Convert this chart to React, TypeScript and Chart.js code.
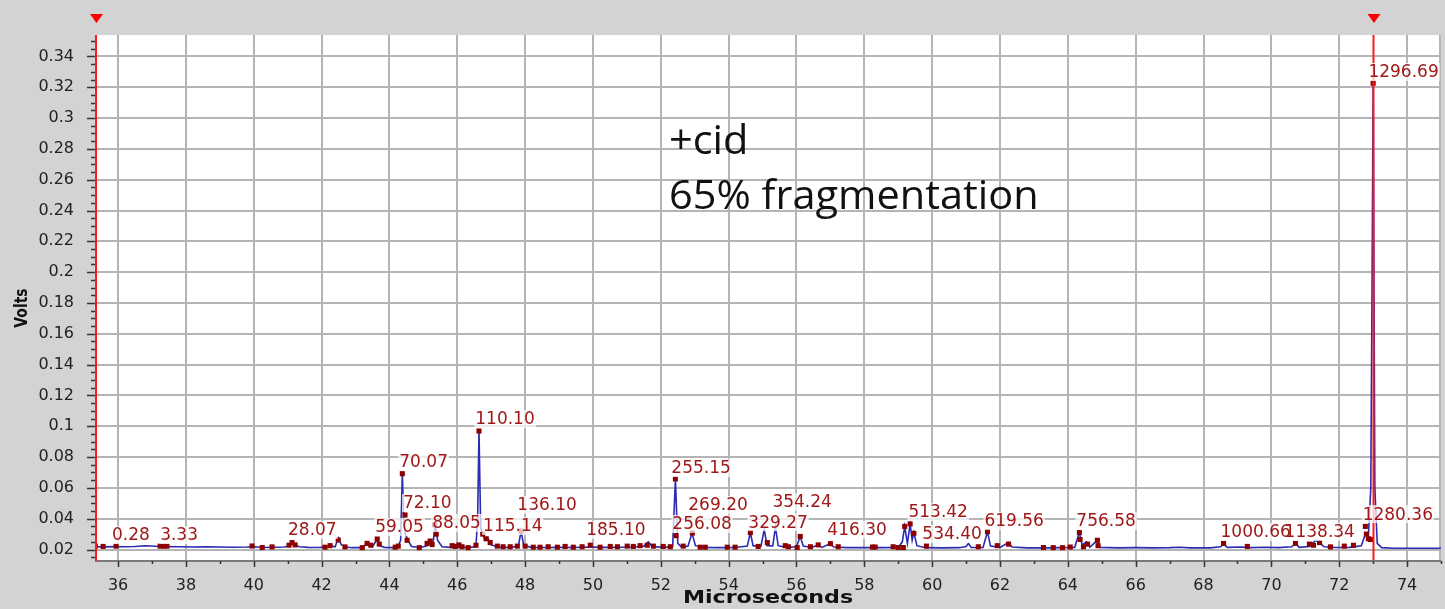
import React, { useEffect, useRef } from "react";
import { Chart, registerables } from "chart.js";

Chart.register(...registerables);

// ---- axis ranges ----
const X_MIN = 35.32;
const X_MAX = 75.0;
const Y_MIN = 0.0132;
const Y_MAX = 0.3539;

// ---- axis tick values / labels ----
const xMajorTicks = [36, 38, 40, 42, 44, 46, 48, 50, 52, 54, 56, 58, 60, 62, 64, 66, 68, 70, 72, 74];
const yMajorTicks = [0.02, 0.04, 0.06, 0.08, 0.1, 0.12, 0.14, 0.16, 0.18, 0.2, 0.22, 0.24, 0.26, 0.28, 0.3, 0.32, 0.34];
const X_MINOR_STEP = 1;
const Y_MINOR_STEP = 0.005;

// ---- trace (Volts vs Microseconds) ----
const traceX = [
  35.32, 35.6, 35.9, 36.2, 36.5, 36.8, 37.1, 37.4, 37.8, 38.2, 38.6, 39.0, 39.4, 39.8, 40.0, 40.3, 40.6, 40.9,
  41.05, 41.13, 41.22, 41.35, 41.6, 41.9, 42.15, 42.3, 42.4, 42.49, 42.58, 42.7, 42.9, 43.2, 43.32, 43.42, 43.5,
  43.64, 43.72, 43.85, 44.1, 44.25, 44.33, 44.38, 44.42, 44.47, 44.55, 44.65, 44.9, 45.1, 45.2, 45.28, 45.35,
  45.42, 45.55, 45.8, 46.0, 46.3, 46.55, 46.6, 46.64, 46.69, 46.75, 46.82, 46.9, 47.0, 47.2, 47.5, 47.8, 47.88,
  47.96, 48.2, 48.6, 49.0, 49.4, 49.9, 50.3, 50.8, 51.2, 51.5, 51.63, 51.75, 52.1, 52.35, 52.43, 52.5, 52.6,
  52.8, 52.92, 53.02, 53.3, 53.7, 54.2, 54.55, 54.64, 54.72, 54.95, 55.05, 55.13, 55.3, 55.38, 55.46, 55.7,
  56.0, 56.11, 56.2, 56.45, 56.64, 56.75, 56.99, 57.1, 57.5, 58.0, 58.5, 59.0, 59.12, 59.19, 59.27, 59.35,
  59.41, 59.46, 59.55, 59.8, 60.3, 60.8, 61.0, 61.07, 61.15, 61.5, 61.63, 61.72, 62.0, 62.25, 62.35, 62.8,
  63.3, 63.8, 64.2, 64.34, 64.42, 64.55, 64.65, 64.87, 64.95, 65.5, 66.0, 66.5, 67.0, 67.3, 67.6, 68.2, 68.5,
  68.59, 68.7, 69.1, 69.4, 69.8, 70.2, 70.6, 70.71, 70.82, 71.12, 71.3, 71.42, 71.55, 71.9, 72.3, 72.65,
  72.77, 72.86, 72.93, 72.97, 73.0, 73.05, 73.12, 73.25, 73.6, 74.0, 74.5, 75.0,
];
const traceY = [
  0.0218, 0.0217, 0.0219, 0.0218, 0.022, 0.0224, 0.0221, 0.0219, 0.0218, 0.0216, 0.0217, 0.0216, 0.0215, 0.0216, 0.0218, 0.0213, 0.0215, 0.0216,
  0.0225, 0.0238, 0.0226, 0.0218, 0.0214, 0.0213, 0.0216, 0.0222, 0.0218, 0.0275, 0.0232, 0.0216, 0.0212, 0.0212, 0.0235, 0.0228, 0.0218,
  0.0268, 0.0225, 0.0214, 0.0212, 0.0218, 0.026, 0.0692, 0.04, 0.03, 0.026, 0.022, 0.0213, 0.0222, 0.0245, 0.023, 0.036,
  0.026, 0.0218, 0.0214, 0.0215, 0.0214, 0.0218, 0.04, 0.0969, 0.034, 0.03, 0.026, 0.0275, 0.023, 0.0216, 0.0214, 0.022, 0.032,
  0.0225, 0.0214, 0.0213, 0.0214, 0.0213, 0.0216, 0.0214, 0.0215, 0.0216, 0.0222, 0.025, 0.022, 0.0214, 0.022, 0.0658, 0.024, 0.0218,
  0.0222, 0.0307, 0.0225, 0.0213, 0.0212, 0.0213, 0.0222, 0.031, 0.0225, 0.022, 0.033, 0.0225, 0.0224, 0.0345, 0.0225, 0.0214,
  0.0218, 0.0285, 0.0222, 0.0213, 0.023, 0.0214, 0.0238, 0.0216, 0.0212, 0.0212, 0.0212, 0.0214, 0.025, 0.035, 0.024, 0.0366,
  0.026, 0.031, 0.0225, 0.0212, 0.0211, 0.0212, 0.022, 0.024, 0.0214, 0.0213, 0.0316, 0.0222, 0.0214, 0.0245, 0.0216, 0.0211,
  0.0211, 0.0212, 0.0214, 0.031, 0.023, 0.025, 0.0215, 0.026, 0.0214, 0.0211, 0.0212, 0.0211, 0.0212, 0.0215, 0.0211, 0.0211, 0.0218,
  0.0235, 0.0214, 0.0216, 0.0212, 0.0215, 0.0212, 0.0218, 0.024, 0.0214, 0.022, 0.026, 0.0245, 0.0218, 0.0213, 0.0214, 0.0225,
  0.03, 0.029, 0.06, 0.2, 0.3226, 0.06, 0.024, 0.0212, 0.0208, 0.0208, 0.0208, 0.0208,
];

// ---- peak markers ----
const markerX = [
  35.33, 35.56, 35.94, 37.24, 37.35, 37.44, 39.95, 40.25, 40.54, 41.04, 41.13, 41.22, 42.1, 42.25, 42.49, 42.69,
  43.2, 43.34, 43.45, 43.64, 43.7, 44.17, 44.26, 44.38, 44.46, 44.52, 44.88, 45.11, 45.2, 45.26, 45.33, 45.38,
  45.85, 45.94, 46.05, 46.14, 46.32, 46.55, 46.64, 46.75, 46.85, 46.97, 47.18, 47.35, 47.56, 47.77, 47.88, 48.0,
  48.24, 48.44, 48.68, 48.95, 49.18, 49.42, 49.68, 49.92, 50.21, 50.51, 50.72, 51.01, 51.19, 51.39, 51.6, 51.78,
  52.07, 52.28, 52.43, 52.45, 52.66, 52.93, 53.16, 53.31, 53.96, 54.19, 54.64, 54.87, 55.14, 55.67, 55.76, 56.02,
  56.11, 56.41, 56.64, 57.0, 57.23, 58.24, 58.32, 58.85, 59.0, 59.15, 59.19, 59.35, 59.46, 59.83, 61.36, 61.63,
  61.92, 62.25, 63.28, 63.57, 63.84, 64.07, 64.34, 64.36, 64.46, 64.58, 64.87, 64.89, 68.59, 69.29, 70.71, 71.12,
  71.24, 71.42, 71.74, 72.15, 72.42, 72.77, 72.8, 72.86, 72.92, 73.0,
];
const markerY = [
  0.0222, 0.022, 0.0222, 0.0222, 0.0222, 0.0222, 0.0223, 0.0213, 0.0217, 0.0228, 0.0245, 0.023, 0.0215, 0.0225, 0.0262, 0.0217,
  0.0212, 0.024, 0.0228, 0.0268, 0.0235, 0.0215, 0.0222, 0.0692, 0.0424, 0.026, 0.0212, 0.024, 0.0255, 0.0232, 0.036, 0.03,
  0.0225, 0.022, 0.023, 0.0218, 0.0212, 0.0228, 0.0969, 0.03, 0.027, 0.0245, 0.0222, 0.0218, 0.0218, 0.0222, 0.032, 0.0222,
  0.0215, 0.0215, 0.0218, 0.0215, 0.022, 0.0215, 0.0218, 0.0228, 0.0215, 0.022, 0.0218, 0.0222, 0.022, 0.0225, 0.0228, 0.0222,
  0.022, 0.0218, 0.0658, 0.029, 0.0222, 0.0307, 0.0215, 0.0215, 0.0215, 0.0215, 0.031, 0.022, 0.0245, 0.0225, 0.0218, 0.0213,
  0.0285, 0.0218, 0.023, 0.0238, 0.0218, 0.0216, 0.0216, 0.0218, 0.0213, 0.0213, 0.035, 0.0366, 0.0305, 0.0222, 0.0218, 0.0316,
  0.0225, 0.0235, 0.0213, 0.0212, 0.0212, 0.0216, 0.031, 0.0265, 0.0218, 0.0235, 0.026, 0.0225, 0.024, 0.022, 0.024, 0.0235,
  0.0228, 0.0245, 0.0217, 0.0222, 0.0227, 0.035, 0.03, 0.027, 0.0265, 0.3226,
];

// ---- peak labels (mass values) ----
const labelTexts = [
  "0.28", "3.33", "28.07", "59.05", "70.07", "72.10", "88.05", "110.10", "115.14", "136.10", "185.10", "255.15", "256.08",
  "269.20", "329.27", "354.24", "416.30", "513.42", "534.40", "619.56", "756.58", "1000.66", "1138.34", "1280.36", "1296.69",
];
const labelX = [
  35.82, 37.24, 41.01, 43.58, 44.29, 44.4, 45.26, 46.53, 46.76, 47.77, 49.8, 52.31, 52.34,
  52.81, 54.58, 55.29, 56.91, 59.3, 59.71, 61.54, 64.25, 68.5, 70.39, 72.69, 72.86,
];
const labelY = [
  0.0294, 0.0294, 0.0327, 0.0346, 0.0768, 0.0502, 0.0372, 0.1047, 0.0353, 0.0489, 0.0327, 0.0729, 0.0366,
  0.0489, 0.0378, 0.0508, 0.0327, 0.0443, 0.0301, 0.0385, 0.0385, 0.0314, 0.0314, 0.043, 0.3299,
];

// ---- cursors and note ----
const cursorX = [35.32, 73.01];
const noteLines = ["+cid", "65% fragmentation"];
const noteX = 52.24;
const noteY = [0.2845, 0.2488];

const xTitle = "Microseconds";
const yTitle = "Volts";

const isMultiple = (v: number, step: number) => Math.abs(v / step - Math.round(v / step)) < 1e-6;

const decorPlugin = {
  id: "decor",
  beforeDraw(chart: any) {
    const { ctx, width, height, chartArea: a } = chart;
    const xs = chart.scales.x;
    const ys = chart.scales.y;
    ctx.save();
    ctx.fillStyle = "#d3d3d3";
    ctx.fillRect(0, 0, width, height);
    ctx.fillStyle = "#ffffff";
    ctx.fillRect(a.left, a.top, a.right - a.left, a.bottom - a.top);
    ctx.strokeStyle = "#b5b5b5";
    ctx.lineWidth = 2;
    ctx.beginPath();
    for (const v of xMajorTicks) {
      const px = Math.round(xs.getPixelForValue(v));
      ctx.moveTo(px, a.top);
      ctx.lineTo(px, a.bottom);
    }
    for (const v of yMajorTicks) {
      const py = Math.round(ys.getPixelForValue(v));
      ctx.moveTo(a.left, py);
      ctx.lineTo(a.right, py);
    }
    ctx.moveTo(a.right - 1, a.top);
    ctx.lineTo(a.right - 1, a.bottom);
    ctx.stroke();
    ctx.restore();
  },
  afterDatasetsDraw(chart: any) {
    const { ctx, chartArea: a } = chart;
    const xs = chart.scales.x;
    const ys = chart.scales.y;
    ctx.save();
    // red cursors
    ctx.strokeStyle = "#ff1a1a";
    ctx.lineWidth = 2;
    ctx.beginPath();
    cursorX.forEach((v, i) => {
      let px = xs.getPixelForValue(v);
      if (i === 0) px = a.left + 1;
      ctx.moveTo(px, a.top);
      ctx.lineTo(px, a.bottom);
    });
    ctx.stroke();
    // peak labels
    ctx.font = '17px "DejaVu Sans"';
    ctx.textAlign = "left";
    ctx.textBaseline = "middle";
    labelTexts.forEach((t, i) => {
      const px = xs.getPixelForValue(labelX[i]);
      const py = ys.getPixelForValue(labelY[i]);
      const w = ctx.measureText(t).width;
      ctx.fillStyle = "rgba(255,255,255,0.72)";
      ctx.fillRect(px - 1, py - 9, w + 2, 18);
    });
    ctx.fillStyle = "#a01818";
    labelTexts.forEach((t, i) => {
      const px = xs.getPixelForValue(labelX[i]);
      const py = ys.getPixelForValue(labelY[i]);
      ctx.fillText(t, px, py + 1);
    });
    // note text
    ctx.fillStyle = "#111111";
    ctx.font = '41px "Open Sans"';
    noteLines.forEach((t, i) => {
      const px = xs.getPixelForValue(noteX);
      const py = ys.getPixelForValue(noteY[i]);
      ctx.save();
      ctx.translate(px, py);
      ctx.scale(1.012, 1);
      ctx.fillText(t, 0, 0);
      ctx.restore();
    });
    ctx.restore();
  },
  afterDraw(chart: any) {
    const { ctx, chartArea: a } = chart;
    const xs = chart.scales.x;
    const ys = chart.scales.y;
    ctx.save();
    // bottom axis line
    ctx.strokeStyle = "#7a7a7a";
    ctx.lineWidth = 2;
    ctx.beginPath();
    ctx.moveTo(a.left, a.bottom + 1);
    ctx.lineTo(a.right, a.bottom + 1);
    ctx.stroke();
    // tick marks (major + minor)
    ctx.strokeStyle = "#333333";
    ctx.lineWidth = 1.5;
    ctx.beginPath();
    for (let v = Math.ceil(X_MIN / X_MINOR_STEP) * X_MINOR_STEP; v <= X_MAX + 1e-9; v += X_MINOR_STEP) {
      const px = Math.round(xs.getPixelForValue(v)) + 0.5;
      const len = isMultiple(v, 2) ? 6 : 3;
      ctx.moveTo(px, a.bottom + 1);
      ctx.lineTo(px, a.bottom + 1 + len);
    }
    for (let k = Math.ceil(Y_MIN / Y_MINOR_STEP); k * Y_MINOR_STEP <= Y_MAX + 1e-9; k++) {
      const v = k * Y_MINOR_STEP;
      const py = Math.round(ys.getPixelForValue(v)) + 0.5;
      const len = k % 4 === 0 ? 8 : 4;
      ctx.moveTo(a.left, py);
      ctx.lineTo(a.left - len, py);
    }
    ctx.stroke();
    // left axis (red cursor overlaps)
    ctx.strokeStyle = "#ff1a1a";
    ctx.lineWidth = 2;
    ctx.beginPath();
    ctx.moveTo(a.left + 1, a.top);
    ctx.lineTo(a.left + 1, a.bottom + 1);
    ctx.stroke();
    // cursor triangles
    ctx.fillStyle = "#ff0000";
    cursorX.forEach((v, i) => {
      const cx = i === 0 ? a.left + 1.5 : xs.getPixelForValue(v) + 0.5;
      ctx.beginPath();
      ctx.moveTo(cx - 6.5, 14);
      ctx.lineTo(cx + 6.5, 14);
      ctx.lineTo(cx, 23);
      ctx.closePath();
      ctx.fill();
    });
    // axis titles
    ctx.fillStyle = "#111111";
    ctx.font = 'bold 18px "DejaVu Sans"';
    ctx.textAlign = "center";
    ctx.textBaseline = "middle";
    ctx.save();
    ctx.translate(768, 598);
    ctx.scale(1.23, 1);
    ctx.fillText(xTitle, 0, 0);
    ctx.restore();
    ctx.save();
    ctx.translate(22, 308);
    ctx.rotate(-Math.PI / 2);
    ctx.font = 'bold 16px "DejaVu Sans"';
    ctx.scale(0.87, 1.15);
    ctx.fillText(yTitle, 0, 0);
    ctx.restore();
    ctx.restore();
  },
};

export default function App() {
  const ref = useRef<HTMLCanvasElement | null>(null);

  useEffect(() => {
    document.body.style.margin = "0";
    const canvas = ref.current;
    if (!canvas) return;
    const trace = traceX.map((x, i) => ({ x, y: traceY[i] }));
    const markers = markerX.map((x, i) => ({ x, y: markerY[i] }));
    const chart = new Chart(canvas, {
      type: "scatter",
      data: {
        datasets: [
          {
            label: "peaks",
            data: markers,
            order: 0,
            showLine: false,
            pointStyle: "rect",
            pointRadius: 3.6,
            pointBackgroundColor: "#8c0000",
            pointBorderWidth: 0,
            pointBorderColor: "#8c0000",
          },
          {
            label: "signal",
            data: trace,
            order: 1,
            showLine: true,
            pointRadius: 0,
            borderColor: "#2a2ab2",
            borderWidth: 1.6,
            tension: 0,
          },
        ],
      },
      options: {
        animation: false,
        responsive: false,
        events: [],
        layout: { padding: { left: 0, right: 4, top: 35, bottom: 0 } },
        plugins: { legend: { display: false }, tooltip: { enabled: false }, title: { display: false } },
        scales: {
          x: {
            type: "linear",
            min: X_MIN,
            max: X_MAX,
            grid: { display: false },
            border: { display: false },
            afterFit: (s: any) => {
              s.height = 49;
            },
            afterBuildTicks: (s: any) => {
              s.ticks = xMajorTicks.map((v) => ({ value: v }));
            },
            ticks: {
              autoSkip: false,
              maxRotation: 0,
              padding: 8,
              color: "#222222",
              font: { family: "DejaVu Sans", size: 16 },
              callback: (v: any) => String(Math.round(Number(v))),
            },
          },
          y: {
            type: "linear",
            min: Y_MIN,
            max: Y_MAX,
            grid: { display: false },
            border: { display: false },
            afterFit: (s: any) => {
              s.width = 95;
            },
            afterBuildTicks: (s: any) => {
              s.ticks = yMajorTicks.map((v) => ({ value: v }));
            },
            ticks: {
              autoSkip: false,
              padding: 13,
              color: "#222222",
              font: { family: "DejaVu Sans", size: 16 },
              callback: (v: any) => String(Number(Number(v).toFixed(2))),
            },
          },
        },
      },
      plugins: [decorPlugin],
    });
    return () => chart.destroy();
  }, []);

  return (
    <div style={{ width: 1445, height: 609 }}>
      <canvas ref={ref} width={1445} height={609} style={{ display: "block" }} />
    </div>
  );
}
